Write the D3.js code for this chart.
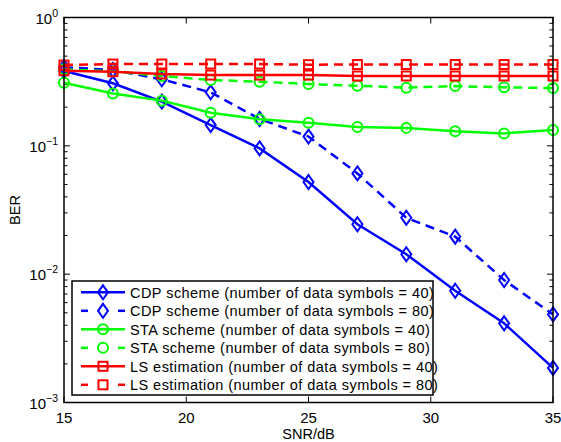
<!DOCTYPE html>
<html>
<head>
<meta charset="utf-8">
<script src="https://cdn.jsdelivr.net/npm/d3@7"></script>
<style>
  body { margin: 0; background: #fff; }
  svg text { font-family: "Liberation Sans", Arial, Helvetica, sans-serif; }
</style>
</head>
<body>
<svg id="chart" width="561" height="442"></svg>
<script>
// Data
var snr = [15, 17, 19, 21, 23, 25, 27, 29, 31, 33, 35];
var cdp40 = [0.383, 0.307, 0.221, 0.145, 0.0955, 0.0522, 0.0245, 0.0143, 0.00743, 0.00414, 0.00186];
var cdp80 = [0.41, 0.39, 0.33, 0.261, 0.162, 0.118, 0.061, 0.0275, 0.0196, 0.009, 0.00486];
var sta40 = [0.31, 0.256, 0.225, 0.181, 0.161, 0.151, 0.140, 0.138, 0.130, 0.125, 0.133];
var sta80 = [0.395, 0.38, 0.35, 0.326, 0.316, 0.303, 0.294, 0.284, 0.292, 0.286, 0.282];
var ls40 = [0.385, 0.378, 0.363, 0.356, 0.356, 0.356, 0.35, 0.35, 0.35, 0.35, 0.35];
var ls80 = [0.426, 0.434, 0.434, 0.434, 0.434, 0.429, 0.43, 0.43, 0.43, 0.43, 0.43];
var xTicks = [15, 20, 25, 30, 35];
var yTicks = [1e-3, 1e-2, 1e-1, 1];
var yExps = [-3, -2, -1, 0];

var series = [
  { name: "CDP scheme (number of data symbols = 40)", values: cdp40, color: "#0000ff", dash: null, marker: "diamond" },
  { name: "CDP scheme (number of data symbols = 80)", values: cdp80, color: "#0000ff", dash: "9,6", marker: "diamond" },
  { name: "STA scheme (number of data symbols = 40)", values: sta40, color: "#00ff00", dash: null, marker: "circle" },
  { name: "STA scheme (number of data symbols = 80)", values: sta80, color: "#00ff00", dash: "9,6", marker: "circle" },
  { name: "LS estimation (number of data symbols = 40)", values: ls40, color: "#ff0000", dash: null, marker: "square" },
  { name: "LS estimation (number of data symbols = 80)", values: ls80, color: "#ff0000", dash: "9,6", marker: "square" }
];

// Layout
var margin = { left: 64, top: 17.5, right: 8, bottom: 39.5 };
var svg = d3.select("#chart");
var width = 561 - margin.left - margin.right;
var height = 442 - margin.top - margin.bottom;
var g = svg.append("g").attr("transform", "translate(" + margin.left + "," + margin.top + ")");

var x = d3.scaleLinear().domain([15, 35]).range([0, width]);
var y = d3.scaleLog().domain([1e-3, 1]).range([height, 0]);

// Minor ticks for log axis
var minor = [];
[1e-3, 1e-2, 1e-1].forEach(function (d) {
  for (var k = 2; k <= 9; k++) minor.push(d * k);
});

// Axes (inward ticks)
var axisG = g.append("g").attr("class", "axes");
function drawTicks(vals, pos, len, side) {
  axisG.selectAll(null).data(vals).enter().append("line")
    .attr("x1", function (d) { return side === "v" ? pos : x(d); })
    .attr("x2", function (d) { return side === "v" ? pos + len : x(d); })
    .attr("y1", function (d) { return side === "v" ? y(d) : pos; })
    .attr("y2", function (d) { return side === "v" ? y(d) : pos + len; })
    .attr("stroke", "#000").attr("stroke-width", 1);
}
drawTicks(yTicks, 0, 6, "v");
drawTicks(minor, 0, 3.5, "v");
drawTicks(yTicks, width, -6, "v");
drawTicks(minor, width, -3.5, "v");
drawTicks(xTicks, height, -6, "h");
drawTicks(xTicks, 0, 6, "h");

// X tick labels
g.selectAll(".xlab").data(xTicks).enter().append("text")
  .attr("class", "xlab")
  .attr("x", function (d) { return x(d); })
  .attr("y", height + 20)
  .attr("text-anchor", "middle")
  .attr("font-size", 15)
  .text(function (d) { return d; });

// Y tick labels 10^n
var ylab = g.selectAll(".ylab").data(yExps).enter().append("text")
  .attr("class", "ylab")
  .attr("x", -6)
  .attr("y", function (d) { return y(Math.pow(10, d)) + 6; })
  .attr("text-anchor", "end")
  .attr("font-size", 15);
ylab.append("tspan").text("10");
ylab.append("tspan").attr("dy", -7).attr("font-size", 10.5)
  .text(function (d) { return d === 0 ? "0" : "\u2212" + (-d); });

// Axis titles
g.append("text")
  .attr("x", width / 2).attr("y", height + 36)
  .attr("text-anchor", "middle").attr("font-size", 14.5)
  .text("SNR/dB");
g.append("text")
  .attr("transform", "translate(" + (-44) + "," + (height / 2) + ") rotate(-90)")
  .attr("text-anchor", "middle").attr("font-size", 14.5)
  .text("BER");

// Marker drawing
function drawMarker(sel, type, color) {
  if (type === "diamond") {
    sel.append("path").attr("d", "M0,-7L5,0L0,7L-5,0Z");
  } else if (type === "circle") {
    sel.append("circle").attr("r", 5);
  } else {
    sel.append("rect").attr("x", -4.5).attr("y", -4.5).attr("width", 9).attr("height", 9);
  }
  sel.selectAll("path,circle,rect")
    .attr("fill", "none").attr("stroke", color).attr("stroke-width", 2);
}

// Lines
var line = d3.line()
  .x(function (d, i) { return x(snr[i]); })
  .y(function (d) { return y(d); });

var plot = g.append("g").attr("class", "plot");
series.forEach(function (s) {
  plot.append("path")
    .attr("d", line(s.values))
    .attr("fill", "none")
    .attr("stroke", s.color)
    .attr("stroke-width", 2.5)
    .attr("stroke-dasharray", s.dash);
  plot.selectAll(null).data(s.values).enter().append("g")
    .attr("transform", function (d, i) { return "translate(" + x(snr[i]) + "," + y(d) + ")"; })
    .each(function () { drawMarker(d3.select(this), s.marker, s.color); });
});

// Frame
g.append("rect").attr("x", 0).attr("y", 0).attr("width", width).attr("height", height)
  .attr("fill", "none").attr("stroke", "#000").attr("stroke-width", 1.5);

// Legend
var legend = g.append("g").attr("transform", "translate(8," + (281 - margin.top) + ")");
legend.append("rect").attr("x", 0).attr("y", 0).attr("width", 361).attr("height", 114)
  .attr("fill", "#fff").attr("stroke", "#000").attr("stroke-width", 1.5);
series.forEach(function (s, i) {
  var row = legend.append("g").attr("transform", "translate(0," + (11.3 + i * 18.5) + ")");
  if (s.dash) {
    row.append("line").attr("x1", 9).attr("x2", 16).attr("stroke", s.color).attr("stroke-width", 2.5);
    row.append("line").attr("x1", 46).attr("x2", 53).attr("stroke", s.color).attr("stroke-width", 2.5);
  } else {
    row.append("line").attr("x1", 9).attr("x2", 53).attr("stroke", s.color).attr("stroke-width", 2.5);
  }
  var m = row.append("g").attr("transform", "translate(31,0)");
  drawMarker(m, s.marker, s.color);
  row.append("text").attr("x", 58).attr("y", 5.5).attr("font-size", 14.5)
    .attr("letter-spacing", 0.45).text(s.name);
});
</script>
</body>
</html>
